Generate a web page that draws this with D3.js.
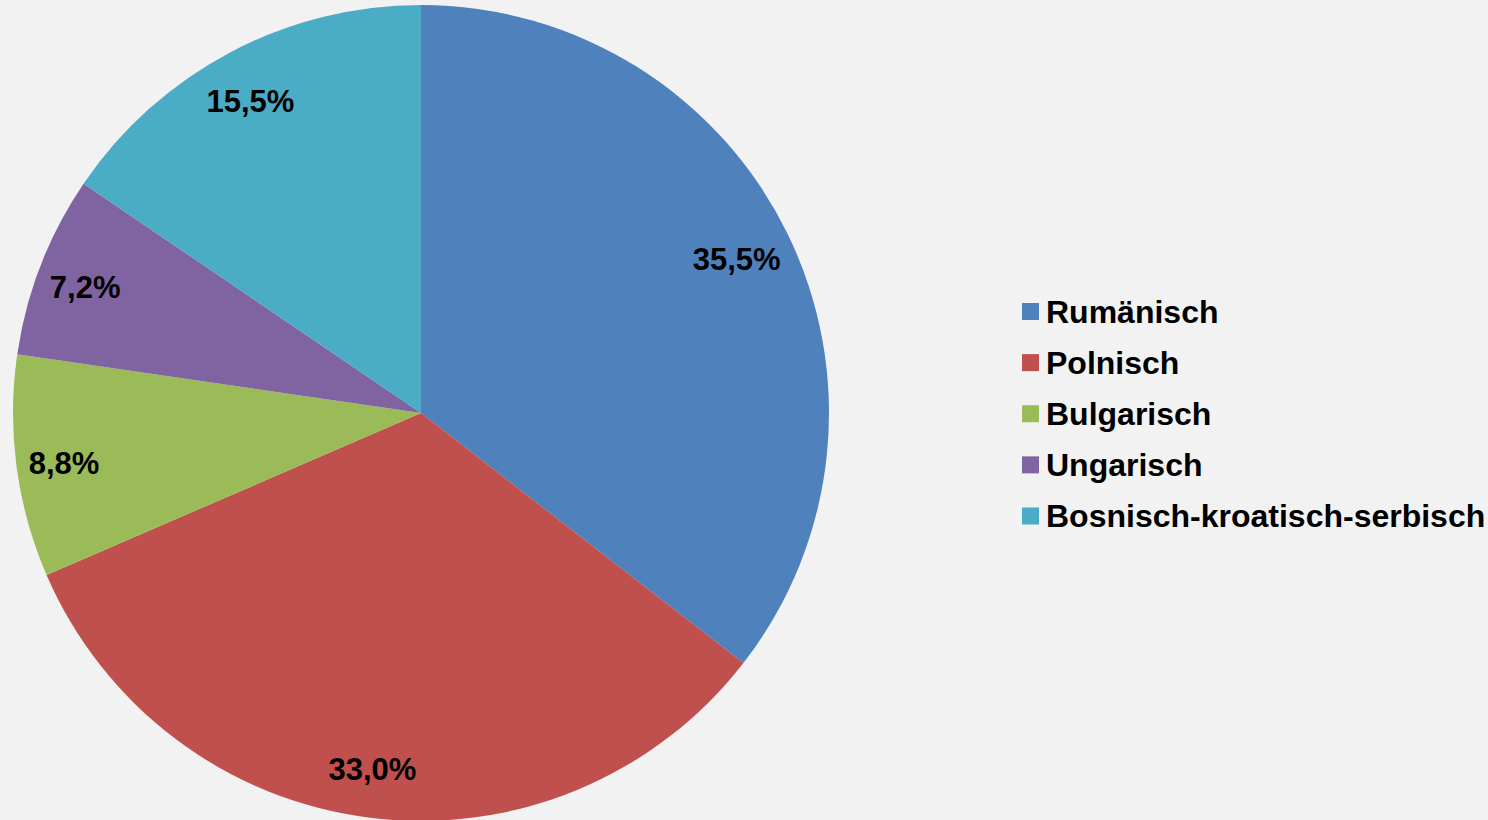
<!DOCTYPE html>
<html>
<head>
<meta charset="utf-8">
<script src="https://cdn.jsdelivr.net/npm/d3@7"></script>
<style>
  html, body { margin: 0; padding: 0; background: #f2f2f2; }
  svg { display: block; }
</style>
</head>
<body>
<div class="canvas"></div>
<script>
// data
const categories = ['Rumänisch', 'Polnisch', 'Bulgarisch', 'Ungarisch', 'Bosnisch-kroatisch-serbisch'];
const shares = [35.5, 33.0, 8.8, 7.2, 15.5];
const colors = ['#4f81bd', '#c0504d', '#9bbb59', '#8064a2', '#4bacc6'];

const width = 1488;
const height = 820;
const radius = 408;
const center = {x: 421, y: 413};

const svg = d3.select('.canvas')
    .append('svg')
    .attr('width', width)
    .attr('height', height);

svg.append('rect')
    .attr('width', width)
    .attr('height', height)
    .attr('fill', '#f2f2f2');

const data = categories.map((c, i) => ({name: c, value: shares[i]}));

const color = d3.scaleOrdinal()
    .domain(categories)
    .range(colors);

const pie = d3.pie()
    .sort(null)
    .value(d => d.value);

const arc = d3.arc()
    .innerRadius(0)
    .outerRadius(radius);

// labels sit a bit inside the rim
const labelArc = d3.arc()
    .innerRadius(356)
    .outerRadius(356);

const graph = svg.append('g')
    .attr('transform', `translate(${center.x}, ${center.y})`);

const arcs = pie(data);

graph.selectAll('path')
    .data(arcs)
    .enter()
    .append('path')
        .attr('d', arc)
        .attr('fill', d => color(d.data.name));

graph.selectAll('text')
    .data(arcs)
    .enter()
    .append('text')
        .attr('transform', d => `translate(${labelArc.centroid(d)})`)
        .attr('text-anchor', 'middle')
        .attr('x', -4)
        .attr('y', 14)
        .attr('font-family', 'Liberation Sans, Arial, sans-serif')
        .attr('font-weight', 'bold')
        .attr('font-size', 31)
        .attr('fill', '#000')
        .text(d => d3.format('.1f')(d.data.value).replace('.', ',') + '%');

// legend
const legendY = d3.scalePoint()
    .domain(categories)
    .range([311.5, 516]);

const legend = svg.append('g');

const items = legend.selectAll('g')
    .data(categories)
    .enter()
    .append('g')
        .attr('transform', d => `translate(1022, ${legendY(d)})`);

items.append('rect')
    .attr('x', 0)
    .attr('y', -8.5)
    .attr('width', 17)
    .attr('height', 17)
    .attr('fill', d => color(d));

items.append('text')
    .attr('x', 24)
    .attr('y', 11)
    .attr('font-family', 'Liberation Sans, Arial, sans-serif')
    .attr('font-weight', 'bold')
    .attr('font-size', 32)
    .attr('fill', '#000')
    .text(d => d);
</script>
</body>
</html>
